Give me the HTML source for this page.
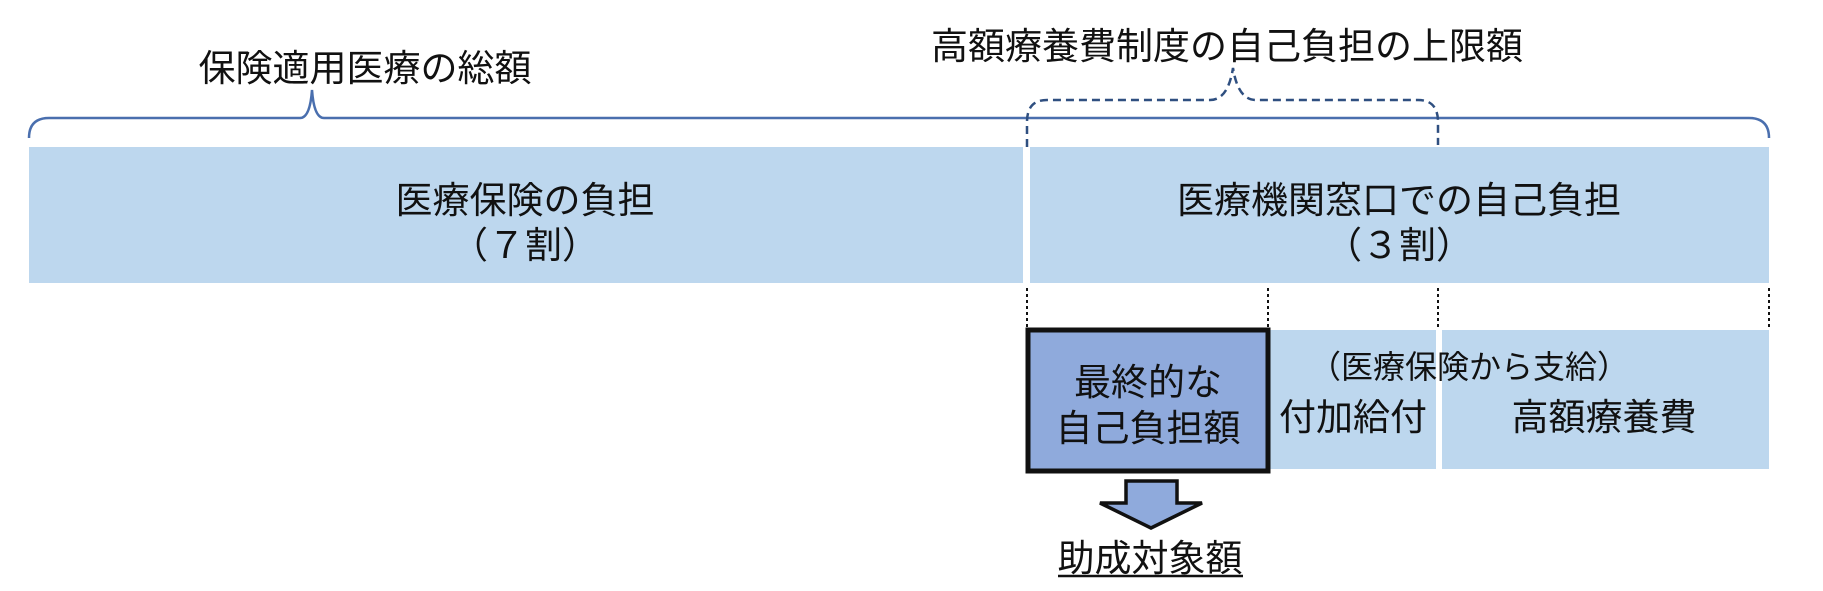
<!DOCTYPE html>
<html><head><meta charset="utf-8"><style>
html,body{margin:0;padding:0;background:#fff;}
svg{display:block;}
text{font-family:"Liberation Sans","Noto Sans CJK JP",sans-serif;fill:#111;}
</style></head><body>
<svg width="1823" height="591" viewBox="0 0 1823 591" xmlns="http://www.w3.org/2000/svg">
<rect x="29" y="147" width="994" height="136" fill="#BDD7EE"/>
<rect x="1030" y="147" width="739" height="136" fill="#BDD7EE"/>
<rect x="1270" y="330" width="166" height="139" fill="#BDD7EE"/>
<rect x="1442" y="330" width="327" height="139" fill="#BDD7EE"/>
<rect x="1028" y="330" width="240" height="141" fill="#8FAADC" stroke="#111" stroke-width="5"/>
<path d="M29,138 Q29,118 49,118 L300,118 Q310,118 312,90 Q314,118 324,118 L1749,118 Q1769,118 1769,138" fill="none" stroke="#4A6FAE" stroke-width="2.5"/>
<path d="M1027,147 L1027,122 Q1027,100 1047,100 L1210,100 Q1228,100 1233,68 Q1238,100 1256,100 L1418,100 Q1438,100 1438,122 L1438,145" fill="none" stroke="#2F4F80" stroke-width="2.5" stroke-dasharray="8,5"/>
<g stroke="#111" stroke-width="2" stroke-dasharray="3,3">
<line x1="1027" y1="288" x2="1027" y2="328"/>
<line x1="1268" y1="288" x2="1268" y2="328"/>
<line x1="1438" y1="288" x2="1438" y2="328"/>
<line x1="1769" y1="288" x2="1769" y2="328"/>
</g>
<path d="M1126,481 L1177,481 L1177,503 L1202,503 L1151,528 L1100,503 L1126,503 Z" fill="#8FAADC" stroke="#111" stroke-width="3.5"/>
<g font-size="37" text-anchor="middle">
<text x="365" y="81">保険適用医療の総額</text>
<text x="1227" y="59">高額療養費制度の自己負担の上限額</text>
<text x="525" y="213">医療保険の負担</text>
<text x="525" y="258">（７割）</text>
<text x="1399" y="213">医療機関窓口での自己負担</text>
<text x="1399" y="258">（３割）</text>
<text x="1148" y="395">最終的な</text>
<text x="1148" y="441">自己負担額</text>
<text x="1353" y="430">付加給付</text>
<text x="1604" y="430">高額療養費</text>
<text x="1469" y="378" font-size="32">（医療保険から支給）</text>
<text x="1150" y="571">助成対象額</text>
</g>
<line x1="1058" y1="576" x2="1243" y2="576" stroke="#111" stroke-width="2.5"/>
</svg>
</body></html>
